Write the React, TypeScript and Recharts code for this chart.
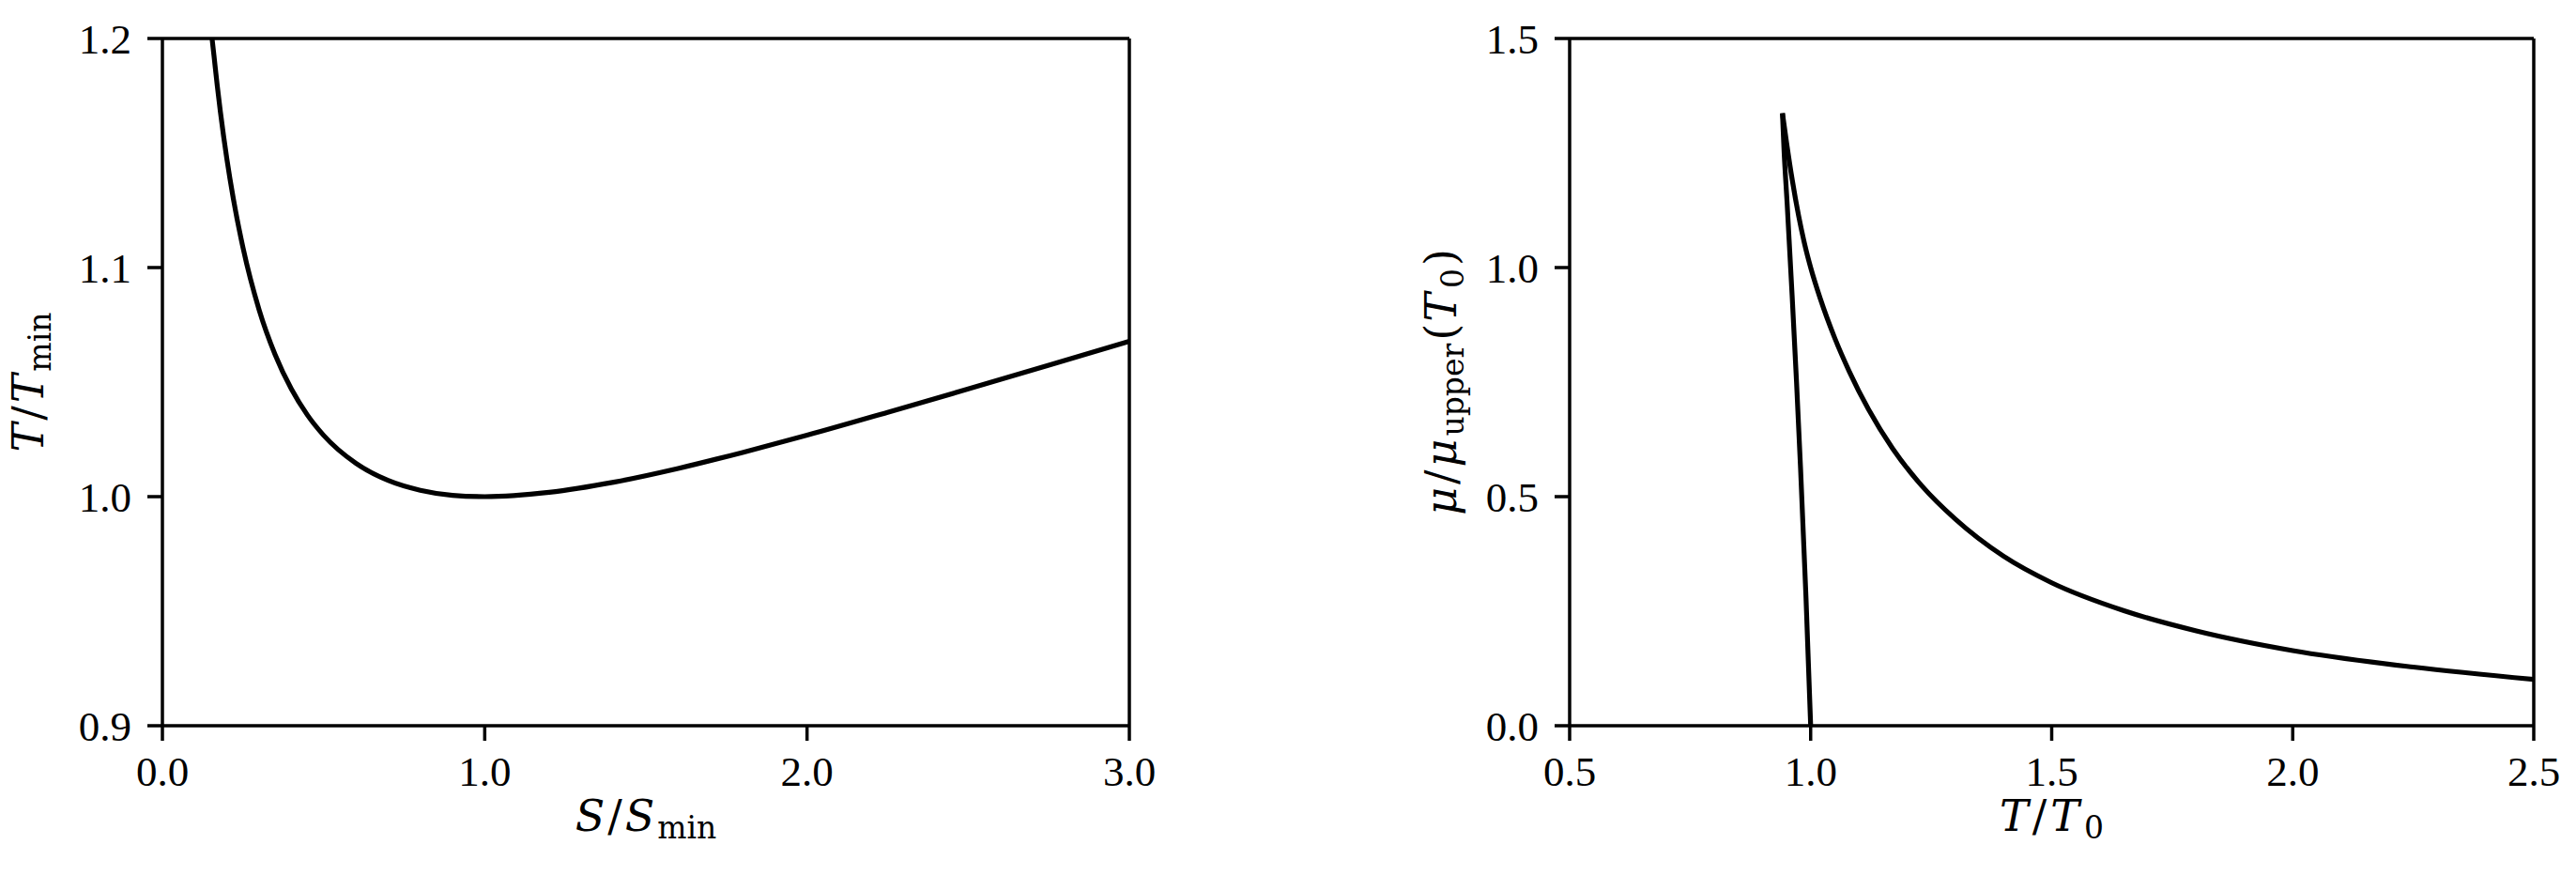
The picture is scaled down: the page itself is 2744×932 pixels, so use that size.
import React from "react";
import { LineChart, Line, XAxis, YAxis, ReferenceLine } from "recharts";

// Left panel: T/T_min versus S/S_min
const leftS = [0.154, 0.16, 0.17, 0.18, 0.2, 0.22, 0.25, 0.3, 0.35, 0.4, 0.45, 0.5, 0.6, 0.7, 0.8, 0.9, 1.0, 1.2, 1.4, 1.6, 1.8, 2.0, 2.25, 2.5, 2.75, 3.0];
const leftT = [1.2, 1.1925, 1.1796, 1.1679, 1.1474, 1.1301, 1.1087, 1.0816, 1.0619, 1.047, 1.0356, 1.0268, 1.0146, 1.0071, 1.0028, 1.0006, 1.0, 1.0019, 1.0063, 1.0123, 1.0193, 1.0268, 1.0368, 1.047, 1.0574, 1.0678];
const leftXTicks = [0, 1, 2, 3];
const leftYTicks = [0.9, 1.0, 1.1, 1.2];

// Right panel: mu/mu_upper(T0) versus T/T0 (two branches meeting at the cusp)
const lowerT = [0.9415, 0.9446, 0.9512, 0.9615, 0.9707, 0.9791, 0.9903, 1.0];
const lowerMu = [1.337, 1.26, 1.14, 0.94, 0.75, 0.56, 0.28, 0.0];
const upperT = [0.9415, 0.95, 0.962, 0.975, 0.988, 1.0, 1.02, 1.05, 1.08, 1.12, 1.17, 1.23, 1.3, 1.4, 1.5, 1.65, 1.8, 2.0, 2.25, 2.5];
const upperMu = [1.337, 1.273, 1.19, 1.113, 1.049, 1.0, 0.932, 0.846, 0.7735, 0.6905, 0.605, 0.5243, 0.451, 0.37, 0.312, 0.251, 0.207, 0.164, 0.128, 0.101];
const rightXTicks = [0.5, 1.0, 1.5, 2.0, 2.5];
const rightYTicks = [0.0, 0.5, 1.0, 1.5];

const zip = (xs: number[], ys: number[]) => xs.map((x, i) => ({ x, y: ys[i] }));
const leftData = zip(leftS, leftT);
const lowerData = zip(lowerT, lowerMu);
const upperData = zip(upperT, upperMu);

const FONT = "Liberation Serif";
const TFONT = "DejaVu Serif";
const FS = 45;
const LFS = 46;
const SUB = 33;
const AXW = 3.5;
const LW = 5.2;
const axisStyle = { stroke: "#000", strokeWidth: AXW };
const tickStyle = { fill: "#000", fontSize: FS, fontFamily: FONT };
const fmt = (v: number) => v.toFixed(1);

type Part = { t: string; it?: boolean; sub?: boolean; dx?: number };

function renderParts(parts: Part[]) {
  return parts.map((p, i) => (
    <tspan
      key={i}
      fontStyle={p.it ? "italic" : "normal"}
      fontSize={p.sub ? SUB : LFS}
      baselineShift={p.sub ? -8 : undefined}
      dx={p.dx ?? 0}
    >
      {p.t}
    </tspan>
  ));
}

function XTitle(props: any) {
  const vb = props.viewBox || {};
  const cx = (vb.x ?? 0) + (vb.width ?? 0) / 2;
  const y = (vb.y ?? 773) + 112;
  return (
    <text x={cx} y={y} textAnchor="middle" fontFamily={TFONT} fontSize={LFS} fill="#000">
      {renderParts(props.parts)}
    </text>
  );
}

function YTitle(props: any) {
  const vb = props.viewBox || {};
  const cy = (vb.y ?? 41) + (vb.height ?? 732) / 2;
  const bx = (vb.x ?? 0) + props.base;
  return (
    <text
      x={bx}
      y={cy}
      transform={`rotate(-90, ${bx}, ${cy})`}
      textAnchor="middle"
      fontFamily={TFONT}
      fontSize={LFS}
      fill="#000"
    >
      {renderParts(props.parts)}
    </text>
  );
}

const leftXParts: Part[] = [
  { t: "S", it: true },
  { t: "/", dx: 3 },
  { t: "S", it: true, dx: 3 },
  { t: "min", sub: true, dx: 3 },
];
const leftYParts: Part[] = [
  { t: "T", it: true },
  { t: "/", dx: 3 },
  { t: "T", it: true, dx: 3 },
  { t: "min", sub: true, dx: 3 },
];
const rightXParts: Part[] = [
  { t: "T", it: true },
  { t: "/", dx: 4 },
  { t: "T", it: true, dx: 4 },
  { t: "0", sub: true, dx: 5 },
];
const rightYParts: Part[] = [
  { t: "μ", it: true },
  { t: "/", dx: 3 },
  { t: "μ", it: true, dx: 3 },
  { t: "upper", sub: true, dx: 3 },
  { t: "(", dx: 3 },
  { t: "T", it: true, dx: 2 },
  { t: "0", sub: true, dx: 5 },
  { t: ")", dx: 3 },
];

export default function App() {
  return (
    <div style={{ position: "absolute", left: 0, top: 0, width: 2744, height: 932, background: "#fff" }}>
      <div style={{ position: "absolute", left: 0, top: 0 }}>
        <LineChart width={1372} height={932} margin={{ top: 41, right: 169, bottom: 0, left: 0 }}>
          <XAxis
            dataKey="x"
            type="number"
            domain={[0, 3]}
            ticks={leftXTicks}
            tickFormatter={fmt}
            allowDataOverflow
            height={159}
            axisLine={axisStyle}
            tickLine={axisStyle}
            tickSize={16}
            tickMargin={16}
            tick={tickStyle}
            interval={0}
            label={(p: any) => <XTitle viewBox={p.viewBox} parts={leftXParts} />}
          />
          <YAxis
            dataKey="y"
            type="number"
            domain={[0.9, 1.2]}
            ticks={leftYTicks}
            tickFormatter={fmt}
            allowDataOverflow
            width={173}
            axisLine={axisStyle}
            tickLine={axisStyle}
            tickSize={16}
            tickMargin={17}
            tick={tickStyle}
            interval={0}
            label={(p: any) => <YTitle viewBox={p.viewBox} parts={leftYParts} base={46} />}
          />
          <ReferenceLine x={3} stroke="#000" strokeWidth={AXW} ifOverflow="visible" />
          <ReferenceLine y={1.2} stroke="#000" strokeWidth={AXW} ifOverflow="visible" />
          <Line
            data={leftData}
            dataKey="y"
            type="monotone"
            stroke="#000"
            strokeWidth={LW}
            dot={false}
            activeDot={false}
            isAnimationActive={false}
          />
        </LineChart>
      </div>
      <div style={{ position: "absolute", left: 1372, top: 0 }}>
        <LineChart width={1372} height={932} margin={{ top: 41, right: 45, bottom: 0, left: 0 }}>
          <XAxis
            dataKey="x"
            type="number"
            domain={[0.5, 2.5]}
            ticks={rightXTicks}
            tickFormatter={fmt}
            allowDataOverflow
            height={159}
            axisLine={axisStyle}
            tickLine={axisStyle}
            tickSize={16}
            tickMargin={16}
            tick={tickStyle}
            interval={0}
            label={(p: any) => <XTitle viewBox={p.viewBox} parts={rightXParts} />}
          />
          <YAxis
            dataKey="y"
            type="number"
            domain={[0, 1.5]}
            ticks={rightYTicks}
            tickFormatter={fmt}
            allowDataOverflow
            width={300}
            axisLine={axisStyle}
            tickLine={axisStyle}
            tickSize={16}
            tickMargin={17}
            tick={tickStyle}
            interval={0}
            label={(p: any) => <YTitle viewBox={p.viewBox} parts={rightYParts} base={179} />}
          />
          <ReferenceLine x={2.5} stroke="#000" strokeWidth={AXW} ifOverflow="visible" />
          <ReferenceLine y={1.5} stroke="#000" strokeWidth={AXW} ifOverflow="visible" />
          <Line
            data={lowerData}
            dataKey="y"
            type="monotone"
            stroke="#000"
            strokeWidth={LW}
            dot={false}
            activeDot={false}
            isAnimationActive={false}
          />
          <Line
            data={upperData}
            dataKey="y"
            type="monotone"
            stroke="#000"
            strokeWidth={LW}
            dot={false}
            activeDot={false}
            isAnimationActive={false}
          />
        </LineChart>
      </div>
    </div>
  );
}
